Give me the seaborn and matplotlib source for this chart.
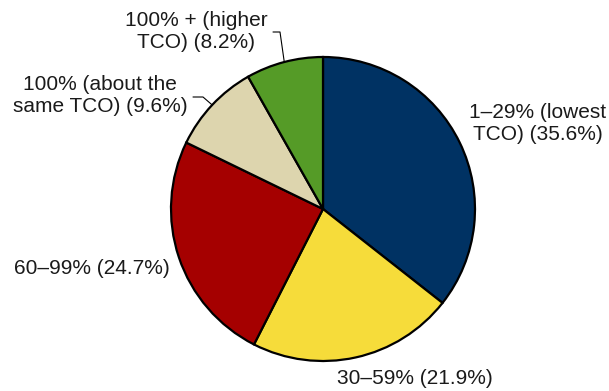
import numpy as np
import matplotlib
matplotlib.use("Agg")
import matplotlib.pyplot as plt
import seaborn as sns

# share of respondents by expected cost relative to current TCO
categories = ["1–29% (lowest\nTCO)", "30–59%", "60–99%",
              "100% (about the\nsame TCO)", "100% + (higher\nTCO)"]
shares = [35.6, 21.9, 24.7, 9.6, 8.2]
colors = ["#003263", "#F6DC3A", "#A50000", "#DDD5AE", "#559B27"]

labels = [f"{c} ({s:.1f}%)" for c, s in zip(categories, shares)]

sns.set_theme(style="white")
plt.rcParams["font.family"] = ["Liberation Sans", "DejaVu Sans"]

fig = plt.figure(figsize=(6.09, 3.91), dpi=100)
ax = fig.add_axes([0, 0, 1, 1])
ax.set_xlim(0, 609)
ax.set_ylim(391, 0)  # pixel-like coords, y down
ax.set_aspect("equal")
ax.axis("off")

cx, cy, R = 323, 209, 152
wedges, _ = ax.pie(
    shares, colors=colors, startangle=-90, counterclock=True,
    center=(cx, cy), radius=R, frame=True,
    wedgeprops=dict(edgecolor="black", linewidth=1.6),
)
ax.set_xlim(0, 609)
ax.set_ylim(391, 0)
ax.axis("off")

# label placement (text centre) for each slice
label_pos = [(538, 124), (415, 379), (92, 268), (100, 95), (196, 32)]
for lab, (tx, ty) in zip(labels, label_pos):
    ax.text(tx, ty, lab, ha="center", va="center", multialignment="center",
            fontsize=15, color="#1a1a1a", linespacing=1.2)


def mid_point(w):
    th = np.deg2rad((w.theta1 + w.theta2) / 2)
    return cx + R * np.cos(th), cy + R * np.sin(th)


# leader lines for the two small slices
px, py = mid_point(wedges[4])
ax.plot([273, 280, px], [32, 32, py], color="black", lw=0.8)
px, py = mid_point(wedges[3])
ax.plot([193, 203, px], [97, 97, py], color="black", lw=0.8)

fig.savefig("out.png", dpi=100)
